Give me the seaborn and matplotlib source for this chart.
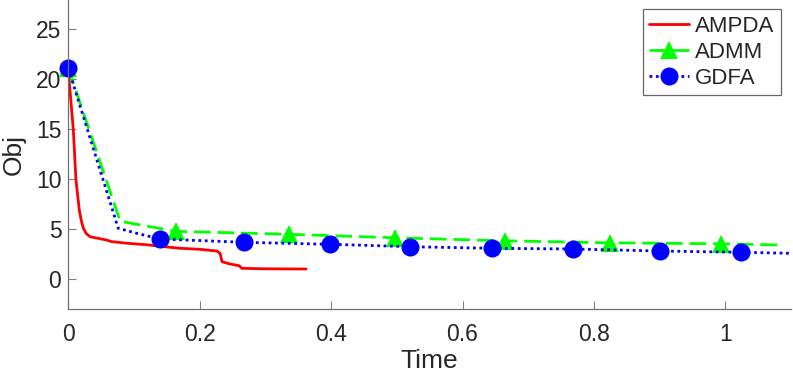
import matplotlib
matplotlib.use("Agg")
import matplotlib.pyplot as plt
import seaborn as sns
import pandas as pd

# ---- data ----
ampda_t = [0, 0.0077, 0.0117, 0.0168, 0.020, 0.023, 0.027, 0.033, 0.045, 0.058, 0.066,
           0.09, 0.12, 0.14, 0.17, 0.20, 0.226, 0.231, 0.234, 0.246, 0.26, 0.264, 0.30, 0.362]
ampda_obj = [20.9, 14.9, 9.9, 6.9, 5.8, 5.1, 4.6, 4.26, 4.1, 3.93, 3.77,
             3.6, 3.45, 3.3, 3.1, 3.0, 2.83, 2.6, 1.76, 1.53, 1.36, 1.1, 1.05, 1.03]

admm_t = [0, 0.079, 0.1636, 0.336, 0.498, 0.664, 0.824, 0.993, 1.086]
admm_obj = [21.1, 5.8, 4.8, 4.5, 4.15, 3.85, 3.65, 3.55, 3.43]
admm_marks = [0, 2, 3, 4, 5, 6, 7]

gdfa_t = [0, 0.076, 0.104, 0.14, 0.267, 0.399, 0.52, 0.645, 0.768, 0.9, 1.024, 1.1]
gdfa_obj = [21.1, 5.1, 4.6, 4.03, 3.7, 3.5, 3.26, 3.1, 3.03, 2.83, 2.7, 2.6]
gdfa_marks = [0, 3, 4, 5, 6, 7, 8, 9, 10]

x_ticks = [0, 0.2, 0.4, 0.6, 0.8, 1]
x_ticklabels = ["0", "0.2", "0.4", "0.6", "0.8", "1"]
y_ticks = [0, 5, 10, 15, 20, 25]

sns.set_style("white")
plt.rcParams["font.family"] = ["Liberation Sans", "DejaVu Sans"]
txt = "#262626"

fig = plt.figure(figsize=(7.93, 3.74), dpi=100)
ax = fig.add_axes([68.3 / 793, (374 - 309.3) / 374, (791 - 68.3) / 793, (309.3 + 0.7) / 374])

df_a = pd.DataFrame({"t": ampda_t, "obj": ampda_obj})
df_b = pd.DataFrame({"t": admm_t, "obj": admm_obj})
df_c = pd.DataFrame({"t": gdfa_t, "obj": gdfa_obj})

sns.lineplot(data=df_a, x="t", y="obj", ax=ax, color=(1, 0, 0), lw=2, label="AMPDA",
             sort=False, estimator=None)
sns.lineplot(data=df_b, x="t", y="obj", ax=ax, color=(0, 1, 0), lw=2, linestyle=(0, (6, 2.5)),
             marker="^", markersize=13, markevery=admm_marks, markeredgewidth=0,
             label="ADMM", sort=False, estimator=None, clip_on=False)
sns.lineplot(data=df_c, x="t", y="obj", ax=ax, color=(0, 0, 1), lw=2, linestyle=(0, (1, 1.3)),
             marker="o", markersize=13, markevery=gdfa_marks, markeredgewidth=0,
             label="GDFA", sort=False, estimator=None, clip_on=False)

ax.set_xlim(0, 1.1)
ax.set_ylim(-3, 28)
ax.set_xticks(x_ticks)
ax.set_xticklabels(x_ticklabels)
ax.set_yticks(y_ticks)
ax.set_xlabel("Time", fontsize=19, color=txt, labelpad=2)
ax.set_ylabel("Obj", fontsize=19, color=txt, labelpad=7)
ax.tick_params(direction="in", length=5.5, width=0.8, color="#808080",
               labelsize=16.5, labelcolor=txt, pad=5, bottom=True, left=True)
ax.tick_params(axis="x", pad=10)
for s in ["top", "right"]:
    ax.spines[s].set_visible(False)
for s in ["left", "bottom"]:
    ax.spines[s].set_color("#707070")
    ax.spines[s].set_linewidth(0.9)

leg = ax.legend(loc="upper right", fontsize=16, frameon=True, fancybox=False,
                handlelength=1.8, handletextpad=0.25, borderpad=0.3,
                labelspacing=0.22, borderaxespad=0.45, numpoints=1)
leg.get_frame().set_edgecolor("#404040")
leg.get_frame().set_linewidth(0.9)
for t in leg.get_texts():
    t.set_color(txt)

fig.savefig("out.png", dpi=100)
